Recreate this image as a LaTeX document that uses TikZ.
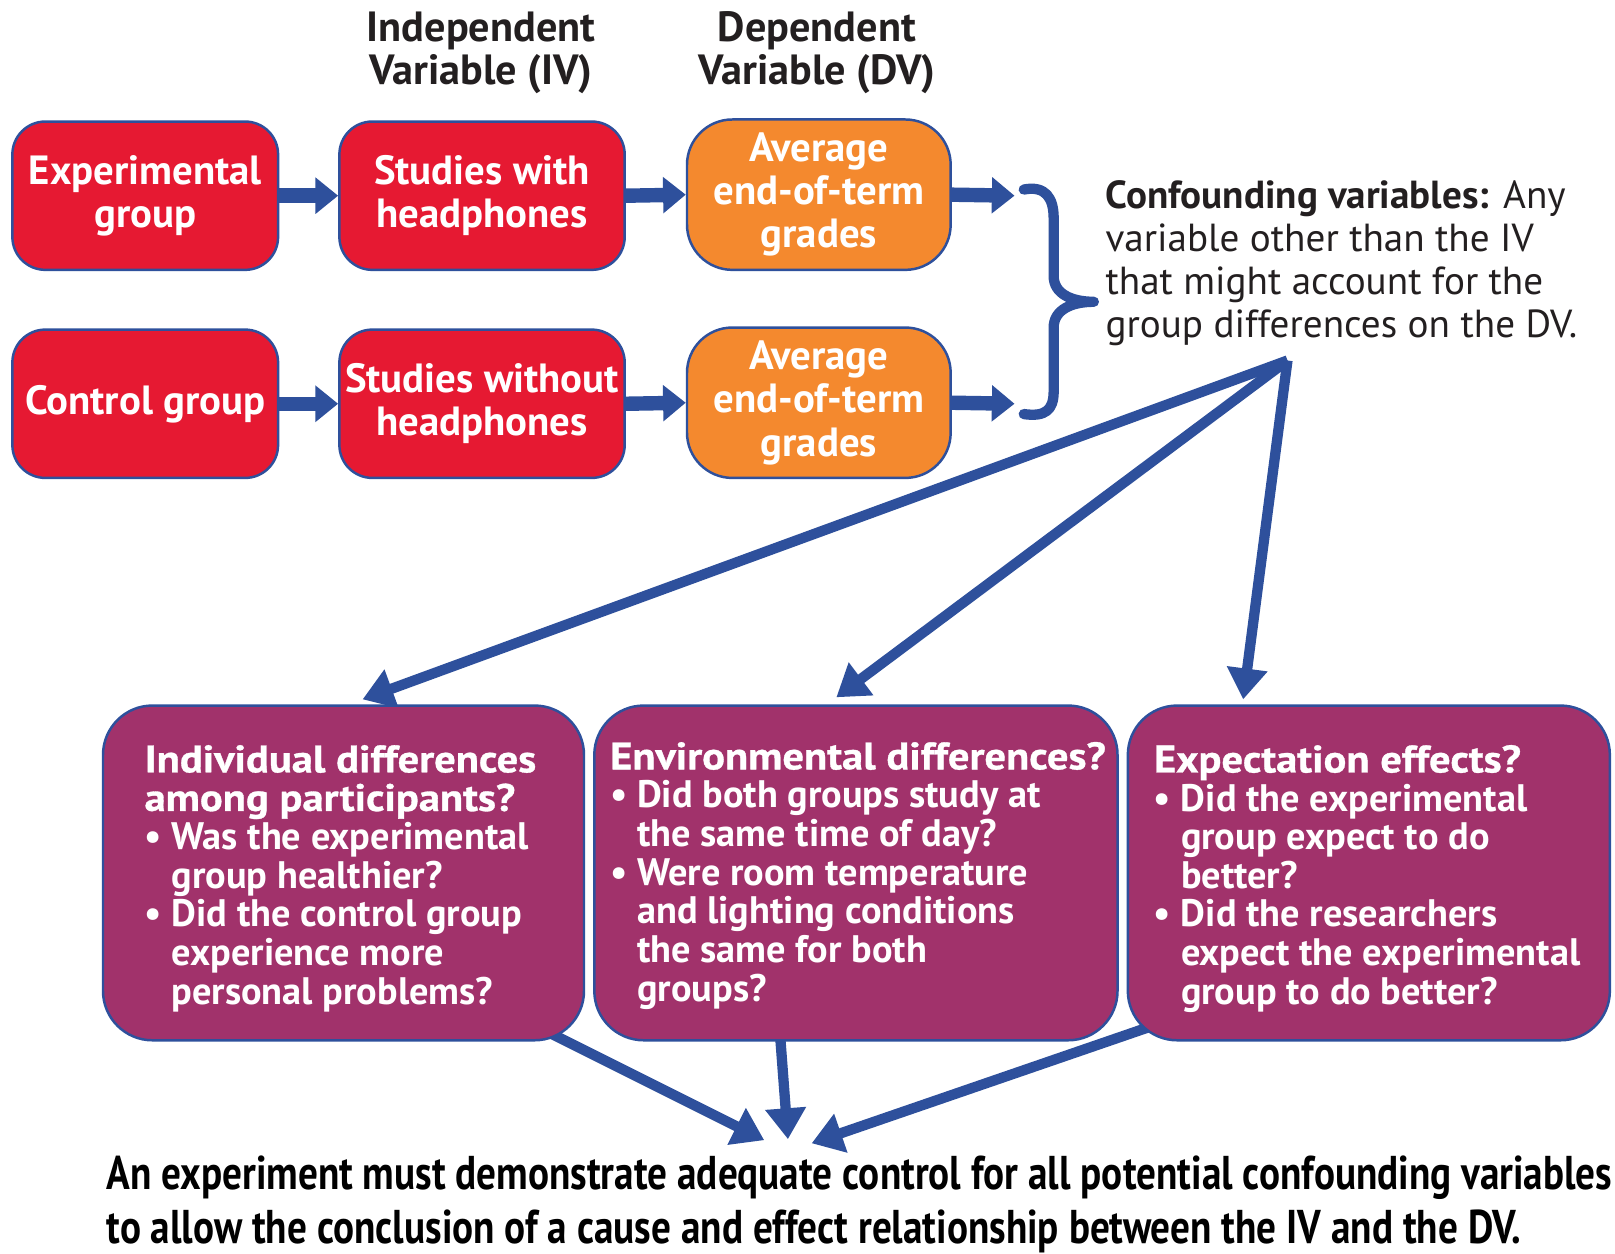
\documentclass[tikz,border=0pt]{standalone}
\usepackage{fontspec}
\setmainfont{PT Sans}
\newfontfamily\headfont{PT Sans}[BoldFeatures={FakeBold=0.8}]
\usetikzlibrary{arrows.meta}
\pgfdeclarelayer{links}
\pgfsetlayers{links,main}

\definecolor{boxred}{RGB}{230,25,50}
\definecolor{boxorange}{RGB}{244,137,46}
\definecolor{boxpurple}{RGB}{161,50,107}
\definecolor{linkblue}{RGB}{46,80,156}
\definecolor{inkdark}{RGB}{35,31,32}

\tikzset{
  stage/.style={draw=linkblue, line width=1.2pt, rounded corners=16pt,
    minimum height=72pt, inner sep=0pt, align=center, text=white,
    font=\fontsize{19.8}{21}\selectfont\bfseries},
  groupbox/.style={stage, fill=boxred},
  outcome/.style={stage, fill=boxorange, rounded corners=22pt, minimum height=73pt},
  question/.style={draw=linkblue, line width=1.2pt, fill=boxpurple,
    rounded corners=24pt, minimum height=162.5pt, inner sep=0pt},
  qtext/.style={anchor=north west, inner sep=0pt, align=left, text=white,
    font=\fontsize{18.6}{18.75}\selectfont\bfseries},
  header/.style={align=center, text=inkdark, inner sep=0pt,
    font=\fontsize{20.5}{21}\selectfont\bfseries},
  flow/.style={draw=linkblue, line width=7pt, -{Triangle[length=11pt,width=17pt]}},
  fan/.style={draw=linkblue, line width=5pt, -{Triangle[length=15pt,width=19pt]}},
  brace/.style={draw=linkblue, line width=5pt, line cap=round, line join=round},
}
% heavier, wider heading lines inside the question boxes
\newcommand\qhead[1]{\scalebox{1.11}[1]{\headfont\bfseries #1}}

\newsavebox\botlineA
\newsavebox\botlineB
\newdimen\botw

\begin{document}
\sbox\botlineA{\fontsize{23}{26}\selectfont\bfseries An experiment must demonstrate adequate control for all potential confounding variables}
\sbox\botlineB{\fontsize{23}{26}\selectfont\bfseries to allow the conclusion of a cause and effect relationship between the IV and the DV.}
\botw=\wd\botlineA
\pgfmathsetmacro\botsx{731/\botw}
\begin{tikzpicture}[x=0.5pt, y=-0.5pt]
  \begin{pgfonlayer}{links}
    \fill[white] (0,0) rectangle (1568,1217);
  \end{pgfonlayer}
  \useasboundingbox (0,0) rectangle (1568,1217);

  % column headings
  \node[header] (hIV) at (467,51) {Independent\\Variable (IV)};
  \node[header] (hDV) at (793,51) {Dependent\\Variable (DV)};

  % experimental row
  \node[groupbox, minimum width=129pt] (exp) at (141,190) {Experimental\\group};
  \node[groupbox, minimum width=138.5pt] (with) at (468,190) {Studies with\\headphones};
  \node[outcome, minimum width=128pt] (gradeA) at (795,189) {Average\\end-of-term\\grades};

  % control row
  \node[groupbox, minimum width=129pt] (ctl) at (141,392) {Control group};
  \node[groupbox, minimum width=138.5pt] (without) at (468,392) {Studies without\\headphones};
  \node[outcome, minimum width=128pt] (gradeB) at (795,391) {Average\\end-of-term\\grades};

  \draw[flow] (exp.east) -- (with.west);
  \draw[flow] (with.east) -- (gradeA.west);
  \draw[flow] (ctl.east) -- (without.west);
  \draw[flow] (without.east) -- (gradeB.west);

  \coordinate (inA) at (985,190);
  \coordinate (inB) at (985,392);
  \draw[flow] (gradeA.east) -- (inA);
  \draw[flow] (gradeB.east) -- (inB);

  % curly brace gathering both outcomes
  \draw[brace] (994,184) .. controls (1015,180) and (1023,192) .. (1023,212)
    -- (1023,268) .. controls (1023,285) and (1040,293) .. (1062,293)
    .. controls (1040,293) and (1023,301) .. (1023,318)
    -- (1023,380) .. controls (1023,398) and (1015,405) .. (994,402);

  \node[anchor=north west, inner sep=0pt, align=left, text=inkdark,
        font=\fontsize{19}{20.85}\selectfont] (conf) at (1073,175)
    {\textbf{Confounding variables:} Any\\variable other than the IV\\that might account for the\\group differences on the DV.};

  % fan of arrows to the three kinds of confound
  \coordinate (apex) at (1250,350);
  \coordinate (tipL) at (352,679);
  \coordinate (tipM) at (812,677);
  \coordinate (tipR) at (1207,679);
  \draw[fan] (apex) -- (tipL);
  \draw[fan] (apex) -- (tipM);
  \draw[fan] (apex) -- (tipR);

  % question boxes
  \node[question, minimum width=233.5pt] (qInd) at (333.5,847.5) {};
  \node[question, minimum width=254pt] (qEnv) at (831,847.5) {};
  \node[question, minimum width=234pt] (qExp) at (1329,847.5) {};

  \node[qtext] (tInd) at (140,723) {%
    \qhead{Individual differences}\\
    \qhead{among participants?}\\
    \textbullet\ Was the experimental\\
    \phantom{\textbullet\ }group healthier?\\
    \textbullet\ Did the control group\\
    \phantom{\textbullet\ }experience more\\
    \phantom{\textbullet\ }personal problems?};
  \node[qtext] (tEnv) at (592,720) {%
    \qhead{Environmental differences?}\\
    \textbullet\ Did both groups study at\\
    \phantom{\textbullet\ }the same time of day?\\
    \textbullet\ Were room temperature\\
    \phantom{\textbullet\ }and lighting conditions\\
    \phantom{\textbullet\ }the same for both\\
    \phantom{\textbullet\ }groups?};
  \node[qtext] (tExp) at (1120,723) {%
    \qhead{Expectation effects?}\\
    \textbullet\ Did the experimental\\
    \phantom{\textbullet\ }group expect to do\\
    \phantom{\textbullet\ }better?\\
    \textbullet\ Did the researchers\\
    \phantom{\textbullet\ }expect the experimental\\
    \phantom{\textbullet\ }group to do better?};

  % arrows converging on the conclusion
  \coordinate (srcInd) at (528,1000);
  \coordinate (srcEnv) at (757,1000);
  \coordinate (srcExp) at (1122,995);
  \coordinate (endInd) at (742,1107);
  \coordinate (endEnv) at (765,1106);
  \coordinate (endExp) at (788,1110);
  \begin{pgfonlayer}{links}
    \draw[fan] (srcInd) -- (endInd);
    \draw[fan] (srcEnv) -- (endEnv);
    \draw[fan] (srcExp) -- (endExp);
  \end{pgfonlayer}

  % conclusion
  \node[anchor=base west, inner sep=0pt, text=inkdark] (concl1) at (103,1155)
    {\scalebox{\botsx}[1]{\usebox\botlineA}};
  \node[anchor=base west, inner sep=0pt, text=inkdark] (concl2) at (103,1207)
    {\scalebox{\botsx}[1]{\usebox\botlineB}};
\end{tikzpicture}
\end{document}
